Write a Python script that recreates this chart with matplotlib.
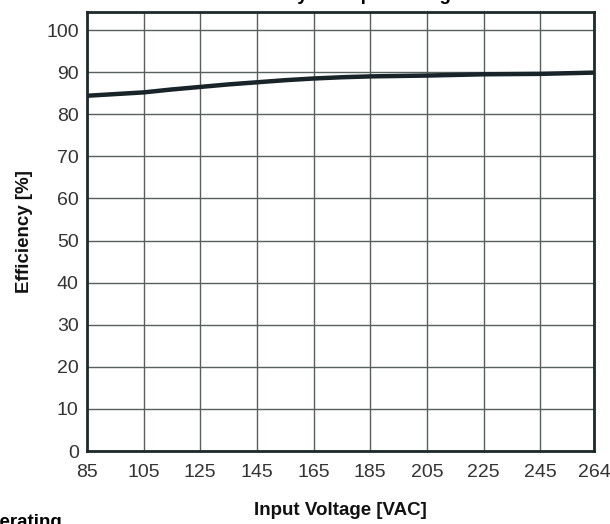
# Efficiency vs. Input Voltage
import matplotlib.pyplot as plt

# Input voltage [VAC] and efficiency [%]
V = [85, 95, 105, 115, 125, 135, 145, 155, 165, 175, 185, 205, 225, 245, 264]
EFF = [84.4, 84.8, 85.2, 85.9, 86.5, 87.1, 87.6, 88.1, 88.5, 88.8, 89.0, 89.2, 89.5, 89.6, 89.9]

X_TICKS = [85, 105, 125, 145, 165, 185, 205, 225, 245, 264]
Y_TICKS = [0, 10, 20, 30, 40, 50, 60, 70, 80, 90, 100]

plt.rcParams['font.family'] = ['Liberation Sans', 'DejaVu Sans']

fig = plt.figure(figsize=(6.10, 5.24), dpi=100)
ax = fig.add_axes([87 / 610, 1 - 451 / 524, (594 - 87) / 610, (451 - 12) / 524])

ax.plot(V, EFF, color='#18232a', linewidth=3.2, solid_capstyle='butt')

ax.set_xlim(85, 264)
ax.set_ylim(0, 104.3)
ax.set_xticks(X_TICKS)
ax.set_yticks(Y_TICKS)
ax.tick_params(length=0, labelsize=14, colors='#333333')
ax.tick_params(axis='x', pad=9.5)
ax.tick_params(axis='y', pad=6)
ax.grid(True, color='#55605f', linewidth=1.0)
ax.set_axisbelow(True)
for s in ax.spines.values():
    s.set_linewidth(2.0)
    s.set_color('#1c2a2a')

ax.set_ylabel("Efficiency [%]", fontsize=13.5, fontweight='bold', color='#111111')
ax.yaxis.set_label_coords(-0.107, 0.5)
ax.set_xlabel("Input Voltage [VAC]", fontsize=13.5, fontweight='bold', color='#111111')
ax.xaxis.set_label_coords(0.5, -0.116)

# title and caption are cut off by the image edges, as in the original
fig.text(340 / 610, 1.0, "Efficiency vs. Input Voltage", fontsize=13.5, fontweight='bold',
         ha='center', va='baseline')
fig.text(-13 / 610, 1 - 514 / 524, "Derating", fontsize=13.5, fontweight='bold',
         ha='left', va='top')

fig.savefig('out.png', dpi=100)
